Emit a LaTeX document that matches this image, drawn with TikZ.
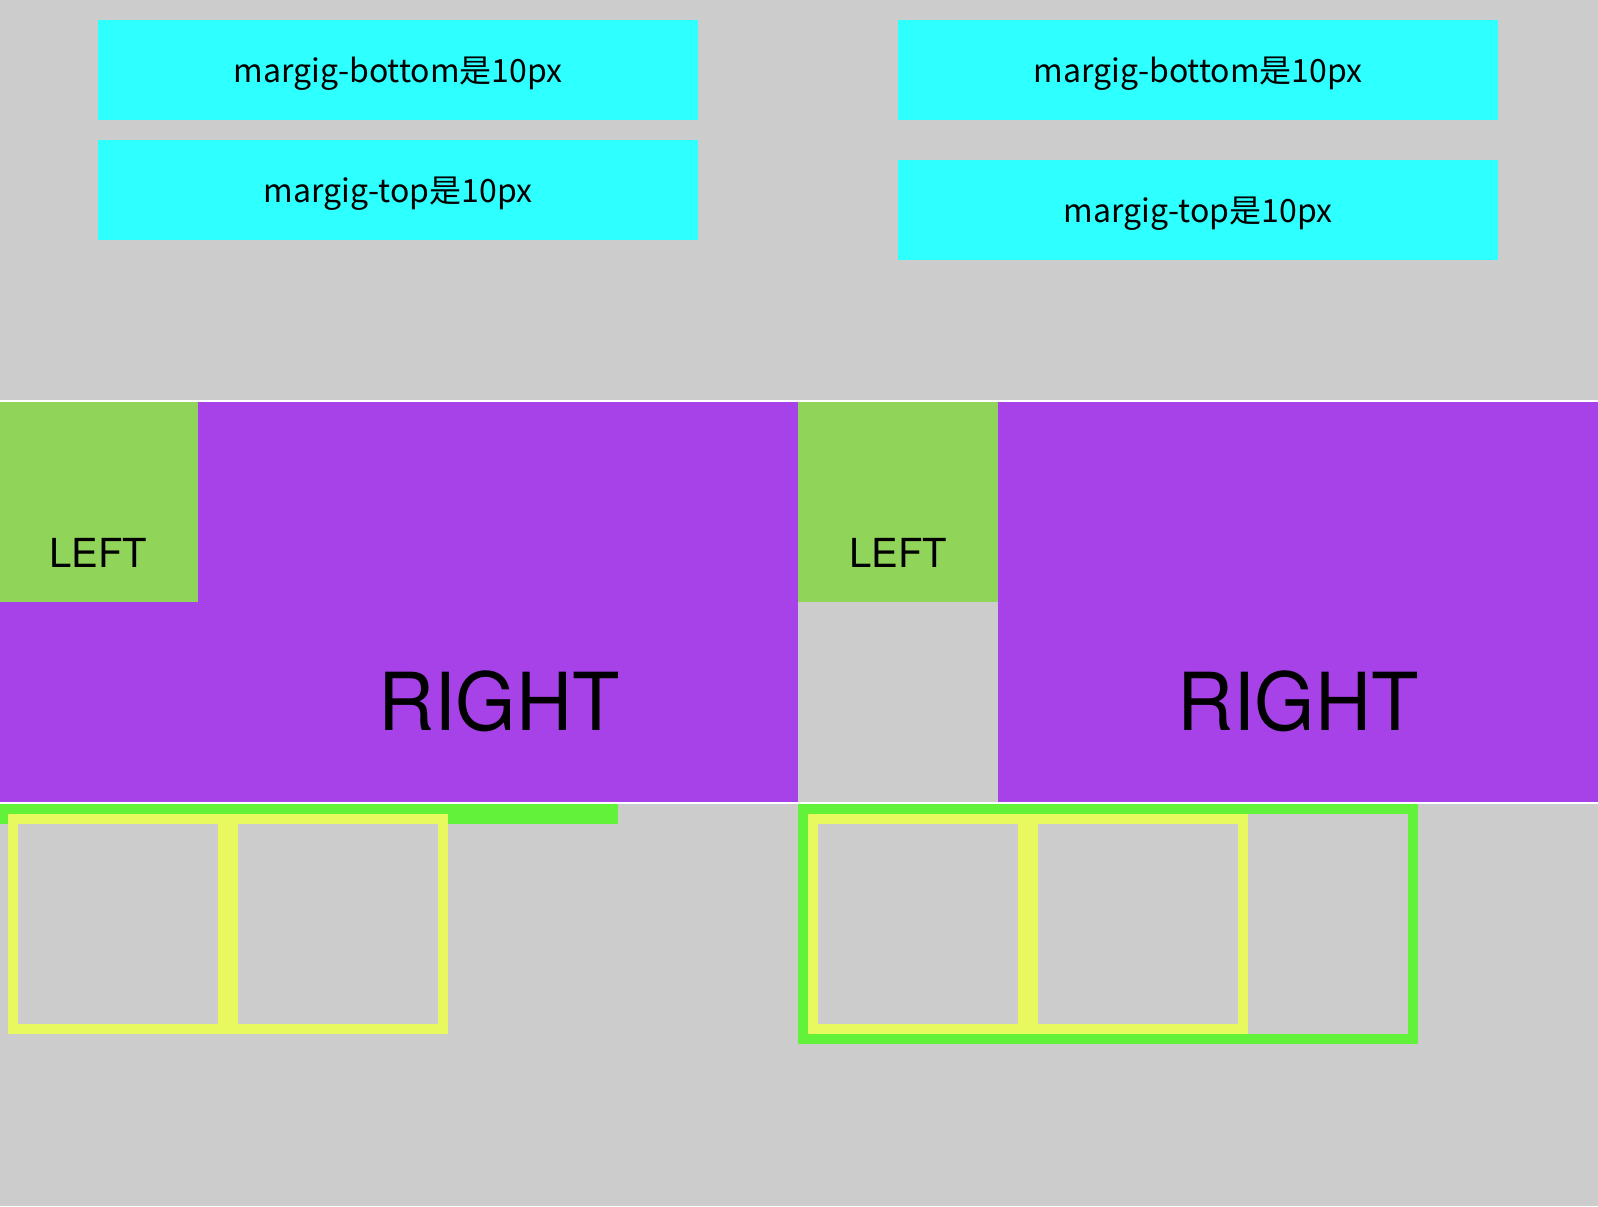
\documentclass[tikz,border=0pt]{standalone}
\usepackage{fontspec}
\newfontfamily\cjk{Noto Sans CJK SC}
\newfontfamily\heros{TeX Gyre Heros}
\newfontfamily\herosnarrow[FakeStretch=0.97]{TeX Gyre Heros}
\definecolor{bg}{HTML}{CCCCCC}
\definecolor{aqua}{HTML}{2EFFFF}
\definecolor{violet}{HTML}{A742E8}
\definecolor{leaf}{HTML}{90D55A}
\definecolor{lime}{HTML}{62F23A}
\definecolor{lemon}{HTML}{E8F960}
\newcommand{\block}[5]{ \fill[#5] ( #1 , #2 ) rectangle ( #3 , #4 );}
\newcommand{\frameblock}[5]{ \draw[#5, line width=5pt] ( #1 + 5 , #2 + 5 ) rectangle ( #3 - 5 , #4 - 5 );}

\begin{document}
\begin{tikzpicture}[x=0.5pt, y=-0.5pt,
  note/.style={anchor=base, inner sep=0pt, font=\cjk\fontsize{16}{16}\selectfont},
  small/.style={anchor=base, inner sep=0pt, font=\heros\fontsize{20}{20}\selectfont},
  big/.style={anchor=base, inner sep=0pt, font=\herosnarrow\fontsize{40}{40}\selectfont}]
\useasboundingbox (0,0) rectangle (1598,1206);
\block{0}{0}{1598}{1206}{bg}
%
\block{98}{20}{698}{120}{aqua}
\block{98}{140}{698}{240}{aqua}
\block{898}{20}{1498}{120}{aqua}
\block{898}{160}{1498}{260}{aqua}
\node[note] (lbot) at (398,82) {margig-bottom是10px};
\node[note] (ltop) at (398,202) {margig-top是10px};
\node[note] (rbot) at (1198,82) {margig-bottom是10px};
\node[note] (rtop) at (1198,222) {margig-top是10px};
%
\block{0}{400}{1598}{402}{white}
\block{0}{402}{798}{802}{violet}
\block{0}{402}{198}{602}{leaf}
\block{798}{402}{998}{602}{leaf}
\block{998}{402}{1598}{802}{violet}
\node[small] (lleft) at (98,567) {LEFT};
\node[small] (rleft) at (898,567) {LEFT};
\node[big] (lright) at (499,730) {RIGHT};
\node[big] (rright) at (1298,730) {RIGHT};
%
\block{0}{802}{1598}{804}{white}
\block{0}{804}{618}{824}{lime}
\frameblock{8}{814}{228}{1034}{lemon}
\frameblock{228}{814}{448}{1034}{lemon}
%
\frameblock{798}{804}{1418}{1044}{lime}
\frameblock{808}{814}{1028}{1034}{lemon}
\frameblock{1028}{814}{1248}{1034}{lemon}

\end{tikzpicture}
\end{document}
